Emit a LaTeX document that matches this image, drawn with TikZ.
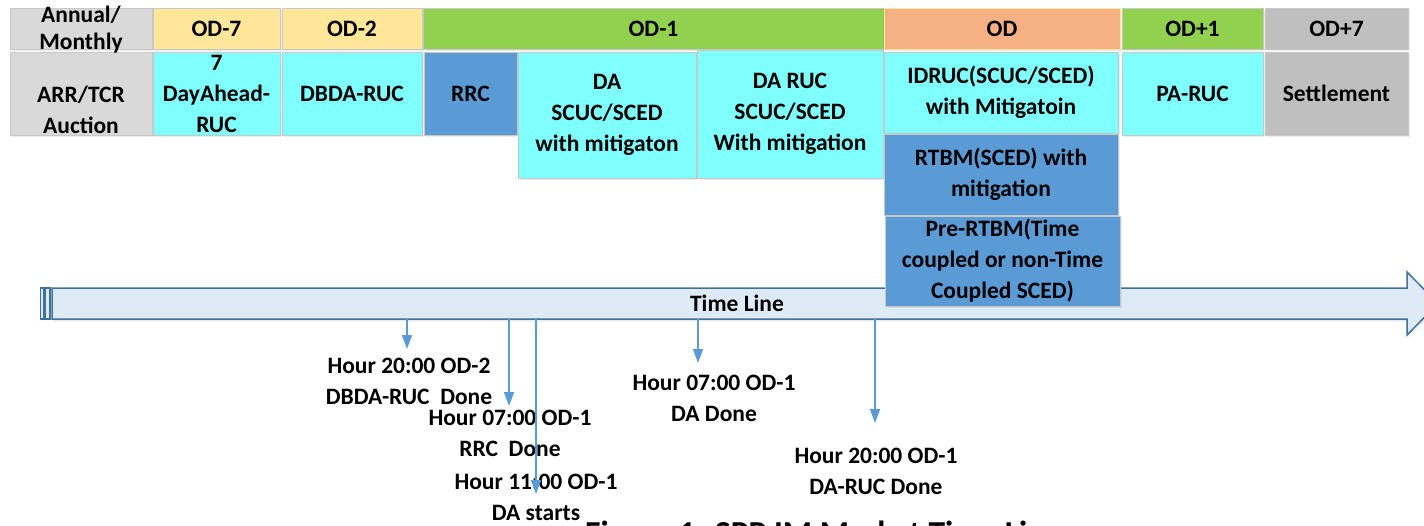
\documentclass[tikz,border=0pt]{standalone}
\usepackage{fontspec}
\setmainfont{Carlito}
\usetikzlibrary{shadows,arrows.meta}
\definecolor{hgray}{HTML}{D9D9D9}
\definecolor{dgray}{HTML}{BFBFBF}
\definecolor{yel}{HTML}{FFE699}
\definecolor{grn}{HTML}{92D050}
\definecolor{org}{HTML}{F4B183}
\definecolor{cyn}{HTML}{80FFFF}
\definecolor{blu}{HTML}{5B9BD5}
\definecolor{tlfill}{HTML}{DEEBF7}
\definecolor{tledge}{HTML}{41719C}
\definecolor{cellborder}{HTML}{C8C8C8}
\begin{document}
\begin{tikzpicture}[x=1pt,y=-1pt,
  txt/.style={align=center, inner sep=0pt, outer sep=0pt,
    font=\bfseries\fontsize{23.5}{31}\selectfont},
  cell/.style={txt, draw=cellborder, line width=1pt, anchor=north west,
    drop shadow={shadow xshift=1.5pt, shadow yshift=-2pt, opacity=0.15}},
  conn/.style={draw=blu, line width=1.6pt, -{Triangle[width=10pt,length=14pt]}},
  lbl/.style={txt}
]
\useasboundingbox (0,0) rectangle (1424,525);

% header row
\node[cell, fill=hgray, minimum width=142pt, minimum height=41pt] (ann) at (10,8) {};
\node[cell, fill=yel, minimum width=127pt, minimum height=41pt] (od7) at (153,8) {OD-7};
\node[cell, fill=yel, minimum width=140pt, minimum height=41pt] (od2) at (282,8) {OD-2};
\node[cell, fill=grn, minimum width=461pt, minimum height=41pt] (od1) at (423,8) {OD-1};
\node[cell, fill=org, draw=yel, minimum width=236pt, minimum height=41pt] (od) at (884,8) {OD};
\node[cell, fill=grn, minimum width=141pt, minimum height=41pt] (odp1) at (1122,8) {OD+1};
\node[cell, fill=dgray, minimum width=143pt, minimum height=41pt] (odp7) at (1265,8) {OD+7};

% second row
\node[cell, fill=hgray, minimum width=142pt, minimum height=83pt] (arr) at (10,52) {};
\node[txt] (arrt) at ([yshift=-16pt]arr.center) {ARR/TCR\\Auction};
\node[cell, fill=cyn, minimum width=127pt, minimum height=83pt] (dah) at (153,52) {7\\DayAhead-\\RUC};
\node[cell, fill=cyn, minimum width=140pt, minimum height=83pt] (dbda) at (282,52) {DBDA-RUC};
\node[cell, fill=blu, minimum width=93pt, minimum height=83pt] (rrc) at (424,52) {RRC};
\node[cell, fill=cyn, minimum width=178pt, minimum height=126pt] (da) at (518,52) {DA\\SCUC/SCED\\with mitigaton};
\node[cell, fill=cyn, minimum width=186pt, minimum height=128pt] (daruc) at (697,50) {DA RUC\\SCUC/SCED\\With mitigation};
\node[cell, fill=cyn, minimum width=234pt, minimum height=81pt] (idruc) at (884,52) {IDRUC(SCUC/SCED)\\with Mitigatoin};
\node[cell, fill=blu, minimum width=234pt, minimum height=81pt] (rtbm) at (884,134) {RTBM(SCED) with\\mitigation};
\node[cell, fill=cyn, minimum width=141pt, minimum height=83pt] (pa) at (1122,52) {PA-RUC};
\node[cell, fill=dgray, minimum width=143pt, minimum height=83pt] (set) at (1265,52) {Settlement};

% header text that overflows its cell (drawn on top)
\node[txt, font=\bfseries\fontsize{23.5}{27}\selectfont] (annt) at (81,29.5) {Annual/\\Monthly};

% time line
\path[draw=tledge, fill=tlfill, line width=1.5pt,
  drop shadow={shadow xshift=1.5pt, shadow yshift=-2.5pt, opacity=0.15}]
  (52,288) -- (1407,288) -- (1407,272) -- (1438,303.5) -- (1407,335) -- (1407,319) -- (52,319) -- cycle;
\draw[draw=tledge, fill=tlfill, line width=1.2pt] (40.5,288) rectangle (44,319);
\draw[draw=tledge, fill=tlfill, line width=1.2pt] (45.5,288) rectangle (50,319);
\node[txt] (tl) at (737,303.5) {Time Line};

\node[cell, fill=blu, minimum width=235pt, minimum height=90pt] (pre) at (885,216) {Pre-RTBM(Time\\coupled or non-Time\\Coupled SCED)};

% milestones
\coordinate (s1) at (407,319);  \coordinate (e1) at (407,349);
\coordinate (s2) at (509,319);  \coordinate (e2) at (509,406);
\coordinate (s3) at (536,319);  \coordinate (e3) at (536,494);
\coordinate (s4) at (698,319);  \coordinate (e4) at (698,363);
\coordinate (s5) at (875,319);  \coordinate (e5) at (875,423);

\node[lbl] (l1) at (409,381.5) {Hour 20:00 OD-2\\DBDA-RUC\ \ Done};
\node[lbl] (l2) at (510,433) {Hour 07:00 OD-1\\RRC\ \ Done};
\node[lbl] (l4) at (714,398) {Hour 07:00 OD-1\\DA Done};
\node[lbl] (l5) at (876,471) {Hour 20:00 OD-1\\DA-RUC Done};
\node[lbl] (l3) at (536,497.5) {Hour 11:00 OD-1\\DA starts};

\draw[conn] (s1) -- (e1);
\draw[conn] (s2) -- (e2);
\draw[conn] (s3) -- (e3);
\draw[conn] (s4) -- (e4);
\draw[conn] (s5) -- (e5);

\node[anchor=base west, inner sep=0pt, font=\bfseries\fontsize{33.5}{40}\selectfont] (cap) at (585,544) {Figure 1: SPP IM Market Time Line};
\end{tikzpicture}
\end{document}
